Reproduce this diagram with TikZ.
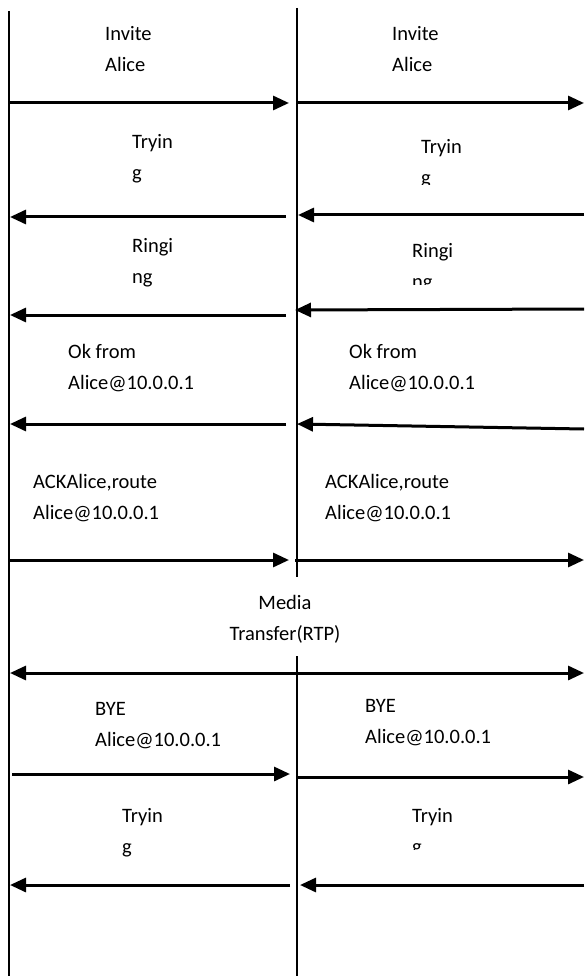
\documentclass[tikz,border=0pt]{standalone}
\usepackage{fontspec}
\setmainfont{Carlito}
\usetikzlibrary{arrows.meta}
\begin{document}
\begin{tikzpicture}[x=1pt,y=-1pt,
  life/.style={line width=1.6pt},
  msg/.style={line width=3pt,-{Triangle[length=16pt,width=14pt]}},
  both/.style={line width=3pt,{Triangle[length=16pt,width=14pt]}-{Triangle[length=16pt,width=14pt]}},
  lbl/.style={anchor=base west,inner sep=0pt,align=left,font=\fontsize{20.5}{31}\selectfont},
  mid/.style={anchor=base,inner sep=0pt,align=center,font=\fontsize{20.5}{31}\selectfont}]
\useasboundingbox[fill=white] (0,0) rectangle (584,976);

% lifelines
\coordinate (Ltop) at (9,11);   \coordinate (Lbot) at (9,976);
\coordinate (Mtop) at (297,8);  \coordinate (Mgap1) at (297,577);
\coordinate (Mgap2) at (297,656); \coordinate (Mbot) at (297,976);
\draw[life] (Ltop) -- (Lbot);
\draw[life] (Mtop) -- (Mgap1);
\draw[life] (Mgap2) -- (Mbot);

% labels are anchored at the baseline of their last line

% INVITE
\node[lbl] (inv1) at (105,72) {Invite\\Alice};
\node[lbl] (inv2) at (392,72) {Invite\\Alice};
\coordinate (a1) at (9,103);   \coordinate (a2) at (289,103);
\coordinate (a3) at (296,103); \coordinate (a4) at (584,103);
\draw[msg] (a1) -- (a2);
\draw[msg] (a3) -- (a4);

% 100 Trying
\node[lbl] (try1) at (132,180) {Tryin\\g};
\begin{scope}
  \clip (380,100) rectangle (500,185);
  \node[lbl] (try2) at (421,185) {Tryin\\g};
\end{scope}
\coordinate (b1) at (286,217); \coordinate (b2) at (10,217);
\coordinate (b3) at (584,215); \coordinate (b4) at (298,215);
\draw[msg] (b1) -- (b2);
\draw[msg] (b3) -- (b4);

% 180 Ringing
\node[lbl] (rng1) at (132,283) {Ringi\\ng};
\begin{scope}
  \clip (380,225) rectangle (500,284);
  \node[lbl] (rng2) at (412,288) {Ringi\\ng};
\end{scope}
\coordinate (c1) at (286,315); \coordinate (c2) at (10,315);
\coordinate (c3) at (584,309); \coordinate (c4) at (295,310);
\draw[msg] (c1) -- (c2);
\draw[msg] (c3) -- (c4);

% 200 OK
\node[lbl] (ok1) at (68,389) {Ok from\\Alice@10.0.0.1};
\node[lbl] (ok2) at (349,389) {Ok from\\Alice@10.0.0.1};
\coordinate (d1) at (286,424); \coordinate (d2) at (10,424);
\coordinate (d3) at (584,429); \coordinate (d4) at (297,424);
\draw[msg] (d1) -- (d2);
\draw[msg] (d3) -- (d4);

% ACK
\node[lbl] (ack1) at (33,519) {ACKAlice,route\\Alice@10.0.0.1};
\node[lbl] (ack2) at (325,519) {ACKAlice,route\\Alice@10.0.0.1};
\coordinate (e1) at (9,560);   \coordinate (e2) at (289,560);
\coordinate (e3) at (295,560); \coordinate (e4) at (584,560);
\draw[msg] (e1) -- (e2);
\draw[msg] (e3) -- (e4);

% media
\node[mid] (rtp) at (285,640) {Media\\Transfer(RTP)};
\coordinate (f1) at (10,673); \coordinate (f2) at (584,673);
\draw[both] (f1) -- (f2);

% BYE
\node[lbl] (bye1) at (95,746) {BYE\\Alice@10.0.0.1};
\node[lbl] (bye2) at (365,743) {BYE\\Alice@10.0.0.1};
\coordinate (g1) at (12,774);  \coordinate (g2) at (290,774);
\coordinate (g3) at (298,777); \coordinate (g4) at (584,777);
\draw[msg] (g1) -- (g2);
\draw[msg] (g3) -- (g4);

% 100 Trying
\node[lbl] (try3) at (122,853) {Tryin\\g};
\begin{scope}
  \clip (380,790) rectangle (500,849);
  \node[lbl] (try4) at (412,853) {Tryin\\g};
\end{scope}
\coordinate (h1) at (290,885); \coordinate (h2) at (10,885);
\coordinate (h3) at (584,885); \coordinate (h4) at (300,885);
\draw[msg] (h1) -- (h2);
\draw[msg] (h3) -- (h4);
\end{tikzpicture}
\end{document}
